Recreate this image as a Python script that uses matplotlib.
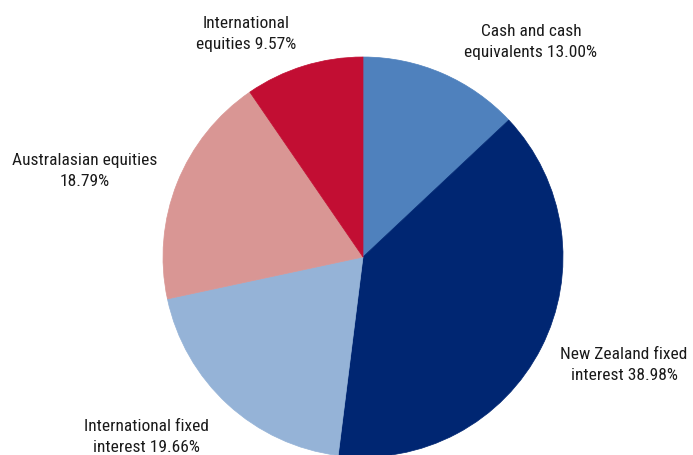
import matplotlib.pyplot as plt
from matplotlib import font_manager

labels = ['Cash and cash\nequivalents', 'New Zealand fixed\ninterest', 'International fixed\ninterest',
          'Australasian equities\n', 'International\nequities']
shares = [13.00, 38.98, 19.66, 18.79, 9.57]
colors = ['#4F81BD', '#002672', '#95B3D7', '#D99694', '#C20E33']

# label centres in pixel coords (x, y from top)
label_pos = [(531, 42), (624, 365), (146, 437), (85, 171), (246, 34)]

names = set(f.name for f in font_manager.fontManager.ttflist)
fam = 'DejaVu Sans'
for cand in ['Liberation Sans Narrow', 'Roboto Condensed', 'Roboto']:
    if cand in names:
        fam = cand
        break

fig = plt.figure(figsize=(6.93, 4.55), dpi=100)
ax = fig.add_axes([0, 0, 1, 1])

wedges, _ = ax.pie(shares, colors=colors, startangle=90, counterclock=False,
                   center=(363, 455 - 257), radius=200, frame=True)
for w in wedges:
    w.set_edgecolor(w.get_facecolor())
    w.set_linewidth(0.5)
ax.set_xlim(0, 693)
ax.set_ylim(0, 455)
ax.set_aspect('equal')
ax.axis('off')

for lab, val, (x, y) in zip(labels, shares, label_pos):
    first, second = lab.split('\n')
    if second:
        txt = first + '\n' + second + ' ' + f'{val:.2f}%'
    else:
        txt = first + '\n' + f'{val:.2f}%'
    ax.text(x, 455 - y, txt, ha='center', va='center', fontsize=12.5,
            family=fam, color='#1a1a1a', linespacing=1.45)

fig.savefig('out.png', dpi=100)
